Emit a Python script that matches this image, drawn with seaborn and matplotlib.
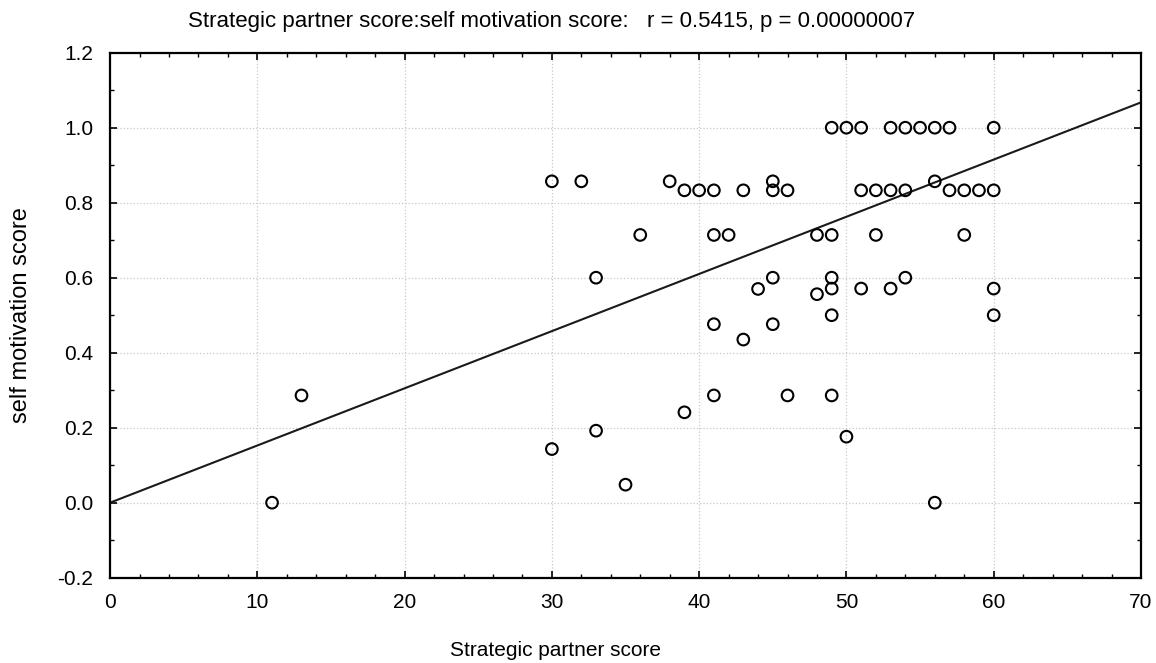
import matplotlib
matplotlib.use("Agg")
import matplotlib.pyplot as plt
import numpy as np
import pandas as pd
import seaborn as sns
from matplotlib.ticker import MultipleLocator, FormatStrFormatter

# values
partner_score = [11, 13, 30, 30, 32, 33, 33, 35, 36, 38,
                 39, 39, 40, 41, 41, 41, 41, 42, 43, 43,
                 44, 45, 45, 45, 45, 46, 46, 48, 48, 49,
                 49, 49, 49, 49, 49, 50, 50, 51, 51, 51,
                 52, 52, 53, 53, 53, 54, 54, 54, 55, 56,
                 56, 56, 57, 57, 58, 58, 59, 60, 60, 60, 60]
motivation_score = [0.0, 0.286, 0.143, 0.857, 0.857, 0.6, 0.192, 0.048, 0.714, 0.857,
                    0.833, 0.241, 0.833, 0.833, 0.714, 0.476, 0.286, 0.714, 0.833, 0.435,
                    0.57, 0.857, 0.833, 0.6, 0.476, 0.833, 0.286, 0.714, 0.556, 1.0,
                    0.714, 0.6, 0.571, 0.5, 0.286, 1.0, 0.176, 1.0, 0.833, 0.571,
                    0.833, 0.714, 1.0, 0.833, 0.571, 1.0, 0.833, 0.6, 1.0, 1.0,
                    0.857, 0.0, 1.0, 0.833, 0.833, 0.714, 0.833, 1.0, 0.833, 0.571, 0.5]

# fitted line as drawn in the reference
fit_intercept = 0.0
fit_slope = 0.01525

title_text = "Strategic partner score:self motivation score:   r = 0.5415, p = 0.00000007"
x_label = "Strategic partner score"
y_label = "self motivation score"

df = pd.DataFrame({"partner": partner_score, "motivation": motivation_score})

sns.set_style("white")
plt.rcParams['font.family'] = ['Liberation Sans', 'DejaVu Sans']
plt.rcParams['text.color'] = 'black'
plt.rcParams['axes.labelcolor'] = 'black'
plt.rcParams['xtick.color'] = 'black'
plt.rcParams['ytick.color'] = 'black'

fig = plt.figure(figsize=(11.56, 6.63), dpi=100)
ax = fig.add_axes([0.0952, 0.1287, 0.8918, 0.7918])

ax.grid(True, which="major", color="#c8c8c8", linestyle=":", linewidth=0.9)
ax.set_axisbelow(True)

ax.axline((0, fit_intercept), slope=fit_slope, color="#1a1a1a", linewidth=1.5, zorder=2)

sns.scatterplot(data=df, x="partner", y="motivation", ax=ax, marker="o",
                s=70, facecolor="none", edgecolor="black", linewidth=1.5, zorder=3)

ax.set_xlim(0, 70)
ax.set_ylim(-0.2, 1.2)
ax.xaxis.set_major_locator(MultipleLocator(10))
ax.xaxis.set_minor_locator(MultipleLocator(2))
ax.yaxis.set_major_locator(MultipleLocator(0.2))
ax.yaxis.set_minor_locator(MultipleLocator(0.1))
ax.yaxis.set_major_formatter(FormatStrFormatter("%.1f"))

ax.tick_params(which="both", direction="in", top=True, right=True,
               bottom=True, left=True, color="black")
ax.tick_params(which="major", length=5, width=1.2, labelsize=15)
ax.tick_params(axis="y", which="major", pad=12)
ax.tick_params(axis="x", which="major", pad=11)
ax.tick_params(which="minor", length=3, width=1.0)

for sp in ax.spines.values():
    sp.set_color("black")
    sp.set_linewidth(1.6)

ax.set_xlabel(x_label, fontsize=15)
ax.set_ylabel(y_label, fontsize=17)
ax.xaxis.set_label_coords(0.432, -0.12)
ax.yaxis.set_label_coords(-0.0757, 0.5)

fig.text(0.1626, 0.967, title_text, fontsize=16, ha="left", va="center")

fig.savefig("out.png", dpi=100, facecolor="white")
